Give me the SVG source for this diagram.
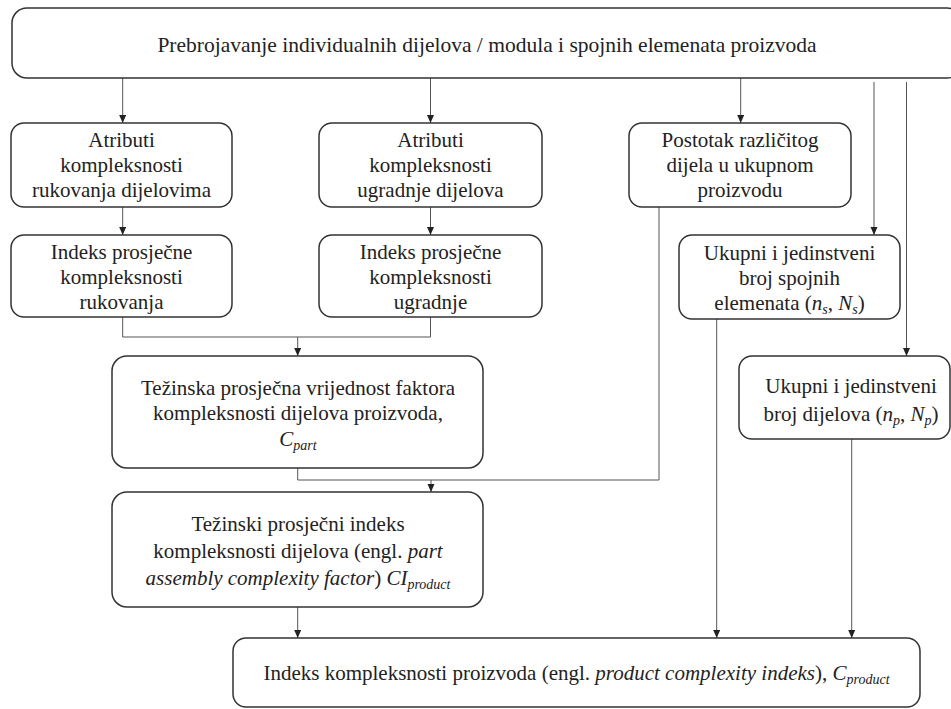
<svg xmlns="http://www.w3.org/2000/svg" width="951" height="709" viewBox="0 0 951 709">
  <defs>
    <marker id="arrow" markerUnits="userSpaceOnUse" markerWidth="8" markerHeight="8" refX="8" refY="3.5" orient="auto">
      <path d="M0,0 L8,3.5 L0,7 z" fill="#222"/>
    </marker>
    <style>
      .box { fill: #fff; stroke: #333; stroke-width: 1.5; }
      .link { fill: none; stroke: #555; stroke-width: 1; }
      .arr { marker-end: url(#arrow); }
      text { font-family: "Liberation Serif", "Times New Roman", serif; font-size: 21px; fill: #222; text-anchor: middle; }
      .it { font-style: italic; }
      .sub { font-style: italic; font-size: 14px; }
    </style>
  </defs>
  <rect width="951" height="709" fill="#fff"/>

  <!-- connectors -->
  <g id="connectors">
    <line class="link arr" x1="122.7" y1="78" x2="122.7" y2="123"/>
    <line class="link arr" x1="430.5" y1="78" x2="430.5" y2="123"/>
    <line class="link arr" x1="740.7" y1="78" x2="740.7" y2="123"/>
    <line class="link arr" x1="874" y1="82" x2="874" y2="235"/>
    <line class="link arr" x1="906.5" y1="82" x2="906.5" y2="356"/>
    <line class="link arr" x1="122.7" y1="207" x2="122.7" y2="235"/>
    <line class="link arr" x1="430.5" y1="207" x2="430.5" y2="235"/>
    <polyline class="link" points="122.7,317 122.7,337 430.5,337 430.5,317"/>
    <line class="link arr" x1="297.7" y1="337" x2="297.7" y2="356"/>
    <polyline class="link" points="297.7,468 297.7,480 659,480 659,207"/>
    <line class="link arr" x1="431" y1="480" x2="431" y2="492"/>
    <line class="link arr" x1="297.7" y1="607" x2="297.7" y2="638"/>
    <line class="link arr" x1="716.7" y1="319" x2="716.7" y2="638"/>
    <line class="link arr" x1="851.7" y1="439" x2="851.7" y2="638"/>
  </g>

  <!-- counting of parts, modules and fasteners -->
  <g id="counting">
    <rect class="box" x="12" y="8" width="950" height="70" rx="15"/>
    <text x="487" y="52" style="font-size:21.5px">Prebrojavanje individualnih dijelova / modula i spojnih elemenata proizvoda</text>
  </g>

  <g id="handling-attributes">
    <rect class="box" x="11" y="123" width="221" height="84" rx="13"/>
    <text x="121.5" y="147">Atributi</text>
    <text x="121.5" y="172">kompleksnosti</text>
    <text x="121.5" y="197">rukovanja dijelovima</text>
  </g>

  <g id="insertion-attributes">
    <rect class="box" x="319" y="123" width="223" height="84" rx="13"/>
    <text x="430.5" y="147">Atributi</text>
    <text x="430.5" y="172">kompleksnosti</text>
    <text x="430.5" y="197">ugradnje dijelova</text>
  </g>

  <g id="distinct-parts">
    <rect class="box" x="629" y="123" width="222" height="84" rx="13"/>
    <text x="740" y="147">Postotak različitog</text>
    <text x="740" y="172">dijela u ukupnom</text>
    <text x="740" y="197">proizvodu</text>
  </g>

  <g id="handling-index">
    <rect class="box" x="11" y="235" width="221" height="82" rx="13"/>
    <text x="121.5" y="259">Indeks prosječne</text>
    <text x="121.5" y="284">kompleksnosti</text>
    <text x="121.5" y="309">rukovanja</text>
  </g>

  <g id="insertion-index">
    <rect class="box" x="319" y="235" width="223" height="82" rx="13"/>
    <text x="430.5" y="259">Indeks prosječne</text>
    <text x="430.5" y="284">kompleksnosti</text>
    <text x="430.5" y="309">ugradnje</text>
  </g>

  <g id="fastener-count">
    <rect class="box" x="679" y="235" width="221" height="84" rx="13"/>
    <text x="789.5" y="260">Ukupni i jedinstveni</text>
    <text x="789.5" y="285">broj spojnih</text>
    <text x="789.5" y="310">elemenata (<tspan class="it">n</tspan><tspan class="sub" dy="4">s</tspan><tspan dy="-4">, </tspan><tspan class="it">N</tspan><tspan class="sub" dy="4">s</tspan><tspan dy="-4">)</tspan></text>
  </g>

  <g id="weighted-average">
    <rect class="box" x="112" y="356" width="371" height="112" rx="15"/>
    <text x="298" y="395">Težinska prosječna vrijednost faktora</text>
    <text x="298" y="420">kompleksnosti dijelova proizvoda,</text>
    <text x="298" y="446"><tspan class="it">C</tspan><tspan class="sub" dy="4">part</tspan></text>
  </g>

  <g id="part-count">
    <rect class="box" x="739" y="356" width="211" height="83" rx="13"/>
    <text x="851" y="393">Ukupni i jedinstveni</text>
    <text x="851" y="421">broj dijelova (<tspan class="it">n</tspan><tspan class="sub" dy="4">p</tspan><tspan dy="-4">, </tspan><tspan class="it">N</tspan><tspan class="sub" dy="4">p</tspan><tspan dy="-4">)</tspan></text>
  </g>

  <g id="weighted-index">
    <rect class="box" x="112" y="492" width="371" height="115" rx="15"/>
    <text x="298" y="531">Težinski prosječni indeks</text>
    <text x="298" y="558">kompleksnosti dijelova (engl. <tspan class="it">part</tspan></text>
    <text x="298" y="585"><tspan class="it">assembly complexity factor</tspan>) <tspan class="it">CI</tspan><tspan class="sub" dy="4">product</tspan></text>
  </g>

  <g id="product-index">
    <rect class="box" x="233" y="638" width="687" height="69" rx="13"/>
    <text x="576.5" y="680">Indeks kompleksnosti proizvoda (engl. <tspan class="it">product complexity indeks</tspan>), <tspan class="it">C</tspan><tspan class="sub" dy="4">product</tspan></text>
  </g>
</svg>
